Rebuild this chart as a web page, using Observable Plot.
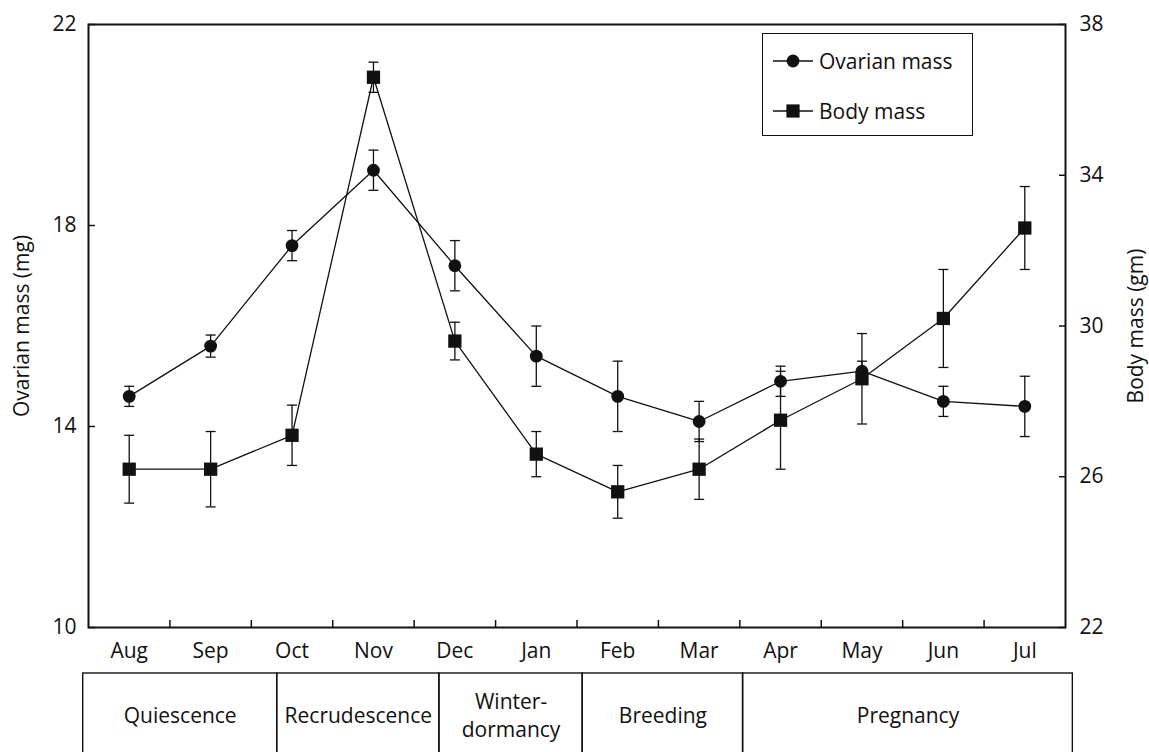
<!DOCTYPE html>
<html><head><meta charset="utf-8">
<script src="https://cdn.jsdelivr.net/npm/d3@7"></script>
<script src="https://cdn.jsdelivr.net/npm/@observablehq/plot@0.6"></script>
<style>
html,body{margin:0;padding:0;background:#fff;overflow:hidden;}
#wrap{position:relative;width:1149px;height:752px;overflow:hidden;font-family:"Open Sans",sans-serif;color:#111;}
#wrap svg{display:block;}
.legend{position:absolute;left:762px;top:33px;width:211px;height:103px;box-sizing:border-box;border:1.5px solid #111;background:#fff;}
.row{position:absolute;left:10px;height:30px;display:flex;align-items:center;font-size:21px;line-height:1;}
.row svg{margin-right:6px;}
</style></head><body><div id="wrap"></div><script>
const months = ["Aug","Sep","Oct","Nov","Dec","Jan","Feb","Mar","Apr","May","Jun","Jul"];
const ovarian    = [14.6, 15.6, 17.6, 19.1, 17.2, 15.4, 14.6, 14.1, 14.9, 15.1, 14.5, 14.4];
const ovarianErr = [0.2, 0.22, 0.3, 0.4, 0.5, 0.6, 0.7, 0.4, 0.3, 0.2, 0.3, 0.6];
const body       = [26.2, 26.2, 27.1, 36.6, 29.6, 26.6, 25.6, 26.2, 27.5, 28.6, 30.2, 32.6];
const bodyErr    = [0.9, 1.0, 0.8, 0.4, 0.5, 0.6, 0.7, 0.8, 1.3, 1.2, 1.3, 1.1];
const leftTicks  = [10, 14, 18, 22];
const rightTicks = [22, 26, 30, 34, 38];
const phases     = ["Quiescence", "Recrudescence", "Winter-\ndormancy", "Breeding", "Pregnancy"];
const phaseStart = [-0.565, 1.818, 3.81, 5.57, 7.54];
const phaseEnd   = [1.818, 3.81, 5.57, 7.54, 11.59];

const INK = "#111";
const idx = d3.range(months.length);
// body mass (22..38) mapped onto the left scale (10..22)
const toLeft = v => 10 + (v - 22) * 12 / 16;
const fromLeft = v => 22 + (v - 10) * 16 / 12;

const ov = idx.map(i => ({i, v: ovarian[i], lo: ovarian[i] - ovarianErr[i], hi: ovarian[i] + ovarianErr[i]}));
const bd = idx.map(i => ({i, v: toLeft(body[i]), lo: toLeft(body[i] - bodyErr[i]), hi: toLeft(body[i] + bodyErr[i])}));
const cap = {draw(ctx) { ctx.moveTo(-5, 0); ctx.lineTo(5, 0); }};

function errorMarks(data) {
  return [
    Plot.ruleX(data, {x: "i", y1: "lo", y2: "hi", stroke: INK, strokeWidth: 1.3}),
    Plot.dot(data, {x: "i", y: "lo", symbol: cap, stroke: INK, fill: "none", strokeWidth: 1.3}),
    Plot.dot(data, {x: "i", y: "hi", symbol: cap, stroke: INK, fill: "none", strokeWidth: 1.3})
  ];
}

const main = Plot.plot({
  width: 1149, height: 665,
  marginLeft: 88, marginRight: 84, marginTop: 24, marginBottom: 38,
  style: {fontFamily: "'Open Sans', sans-serif", fontSize: "21px", color: INK, background: "#fff", overflow: "visible"},
  x: {domain: [-0.5, 11.5], axis: null},
  y: {domain: [10, 22], axis: null},
  marks: [
    Plot.axisX({ticks: idx, tickFormat: i => months[i], tickSize: 0, tickPadding: 16, label: null, fontSize: 21}),
    Plot.axisX({ticks: d3.range(0.5, 11, 1), tickSize: -7, tickFormat: () => "", label: null, strokeWidth: 1.5}),
    Plot.axisY({anchor: "left", ticks: leftTicks, tickSize: 0, tickPadding: 12, label: null, fontSize: 21}),
    Plot.axisY({anchor: "left", ticks: leftTicks, tickSize: -7, tickFormat: () => "", label: null, strokeWidth: 1.5}),
    Plot.axisY({anchor: "right", ticks: rightTicks.map(toLeft), tickFormat: v => String(Math.round(fromLeft(v))), tickSize: 0, tickPadding: 14, label: null, fontSize: 21}),
    Plot.axisY({anchor: "right", ticks: rightTicks.map(toLeft), tickSize: -7, tickFormat: () => "", label: null, strokeWidth: 1.5}),
    Plot.frame({stroke: INK, strokeWidth: 2}),
    Plot.text(["Ovarian mass (mg)"], {frameAnchor: "left", textAnchor: "middle", lineAnchor: "middle", rotate: -90, dx: -66, fontSize: 21, fill: INK}),
    Plot.text(["Body mass (gm)"], {frameAnchor: "right", textAnchor: "middle", lineAnchor: "middle", rotate: -90, dx: 71, fontSize: 21, fill: INK}),
    Plot.line(ov, {x: "i", y: "v", stroke: INK, strokeWidth: 1.3}),
    Plot.line(bd, {x: "i", y: "v", stroke: INK, strokeWidth: 1.3}),
    ...errorMarks(ov),
    ...errorMarks(bd),
    Plot.dot(ov, {x: "i", y: "v", symbol: "circle", r: 6.4, fill: INK, stroke: "none"}),
    Plot.dot(bd, {x: "i", y: "v", symbol: "square", r: 7.5, fill: INK, stroke: "none"})
  ]
});

const phaseData = phases.map((name, k) => ({name, s: phaseStart[k], e: phaseEnd[k]}));
const table = Plot.plot({
  width: 1149, height: 100,
  marginLeft: 88, marginRight: 84, marginTop: 8, marginBottom: 0,
  style: {fontFamily: "'Open Sans', sans-serif", fontSize: "21px", color: INK, background: "#fff", overflow: "visible"},
  x: {domain: [-0.5, 11.5], axis: null},
  marks: [
    Plot.rect(phaseData, {x1: "s", x2: "e", stroke: INK, strokeWidth: 1.4, fill: "none"}),
    Plot.text(phaseData, {x: d => (d.s + d.e) / 2, text: "name", frameAnchor: "top", lineAnchor: "middle", dy: 41, lineHeight: 1.33, fontSize: 21, fill: INK})
  ]
});

const wrap = document.getElementById("wrap");
wrap.appendChild(main);
wrap.appendChild(table);

const legend = document.createElement("div");
legend.className = "legend";
function sw(kind) {
  const m = kind === "circle"
    ? `<circle cx="20" cy="10" r="6.4" fill="${INK}"/>`
    : `<rect x="13.4" y="3.4" width="13.2" height="13.2" fill="${INK}"/>`;
  return `<svg width="40" height="20" viewBox="0 0 40 20"><line x1="0" y1="10" x2="40" y2="10" stroke="${INK}" stroke-width="1.3"/>${m}</svg>`;
}
legend.innerHTML =
  `<div class="row" style="top:12px">${sw("circle")}<span>Ovarian mass</span></div>` +
  `<div class="row" style="top:62px">${sw("square")}<span>Body mass</span></div>`;
wrap.appendChild(legend);
</script></body></html>
